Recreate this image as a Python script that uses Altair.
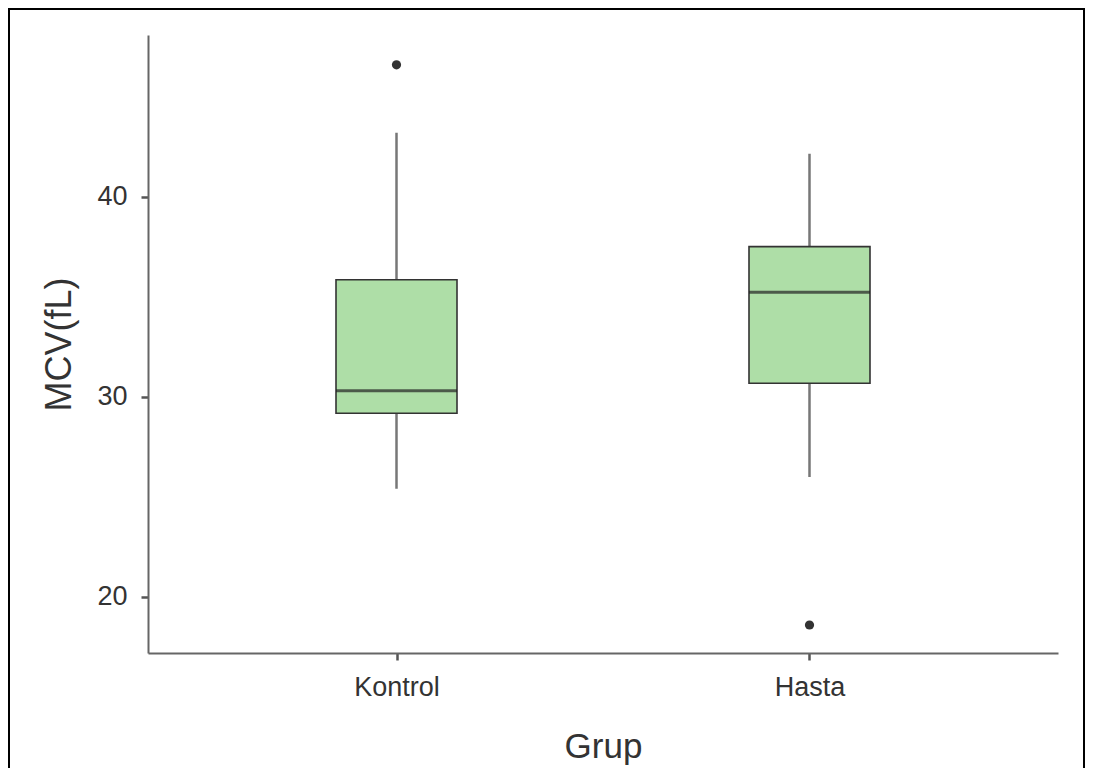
import altair as alt
import pandas as pd

groups = ["Kontrol", "Hasta"]
lower_whisker = [25.39, 25.98]
q1 = [29.17, 30.67]
median = [30.29, 35.22]
q3 = [35.84, 37.5]
upper_whisker = [43.19, 42.14]

outlier_groups = ["Kontrol", "Hasta"]
outlier_values = [46.59, 18.58]

box_df = pd.DataFrame({
    "Grup": groups,
    "lo": lower_whisker,
    "q1": q1,
    "med": median,
    "q3": q3,
    "hi": upper_whisker,
})
out_df = pd.DataFrame({"Grup": outlier_groups, "val": outlier_values})

FONT = "Liberation Sans"
TXT = "#333333"

x_enc = alt.X(
    "Grup:N",
    sort=groups,
    scale=alt.Scale(type="point", padding=0.6017),
    axis=alt.Axis(
        title="Grup",
        labelAngle=0,
        labelFontSize=27,
        labelColor=TXT,
        labelFont=FONT,
        labelPadding=14,
        tickSize=7,
        tickWidth=2.5,
        tickColor="#555555",
        domainColor="#666666",
        domainWidth=2,
        titleFontSize=35,
        titleFontWeight="normal",
        titleFont=FONT,
        titleColor=TXT,
        titleY=104,
        titleBaseline="alphabetic",
        grid=False,
    ),
)

y_scale = alt.Scale(domain=[17.18, 48.08], nice=False, zero=False)
y_axis = alt.Axis(
    title="MCV(fL)",
    values=[20, 30, 40],
    labelFontSize=27,
    labelColor=TXT,
    labelFont=FONT,
    labelPadding=14,
    tickSize=7,
    tickWidth=2.5,
    tickColor="#555555",
    domainColor="#666666",
    domainWidth=2,
    titleFontSize=36,
    titleFontWeight="normal",
    titleFont=FONT,
    titleColor=TXT,
    titleX=-78,
    titleY=309,
    titleBaseline="alphabetic",
    titleAlign="center",
    titleAngle=-90,
    grid=False,
)

base = alt.Chart(box_df)

whisker = base.mark_rule(color="#777777", strokeWidth=2.5).encode(
    x=x_enc,
    y=alt.Y("lo:Q", scale=y_scale, axis=y_axis),
    y2="hi:Q",
)

box = base.mark_bar(size=121, color="#aedea7", stroke="#333333", strokeWidth=1.6).encode(
    x=alt.X("Grup:N", sort=groups),
    y=alt.Y("q1:Q"),
    y2="q3:Q",
)

med = base.mark_tick(size=121, thickness=3, color="#222222").encode(
    x=alt.X("Grup:N", sort=groups),
    y=alt.Y("med:Q"),
)

outliers = alt.Chart(out_df).mark_circle(size=85, color="#333333", opacity=1).encode(
    x=alt.X("Grup:N", sort=groups),
    y=alt.Y("val:Q"),
)

frame = alt.Chart(pd.DataFrame({"k": [0]})).mark_rect(
    fill=None, stroke="#000000", strokeWidth=2, clip=False
).encode(
    x=alt.value(-139), x2=alt.value(936), y=alt.value(-26), y2=alt.value(790)
)

chart = alt.layer(whisker, box, med, outliers, frame).properties(
    width=910,
    height=618,
    padding={"left": 140, "top": 27, "right": 28, "bottom": 115},
    autosize=alt.AutoSizeParams(type="none"),
    background="white",
).configure_view(stroke=None)

chart.save("out.html", embed_options={"renderer": "svg", "actions": False})
